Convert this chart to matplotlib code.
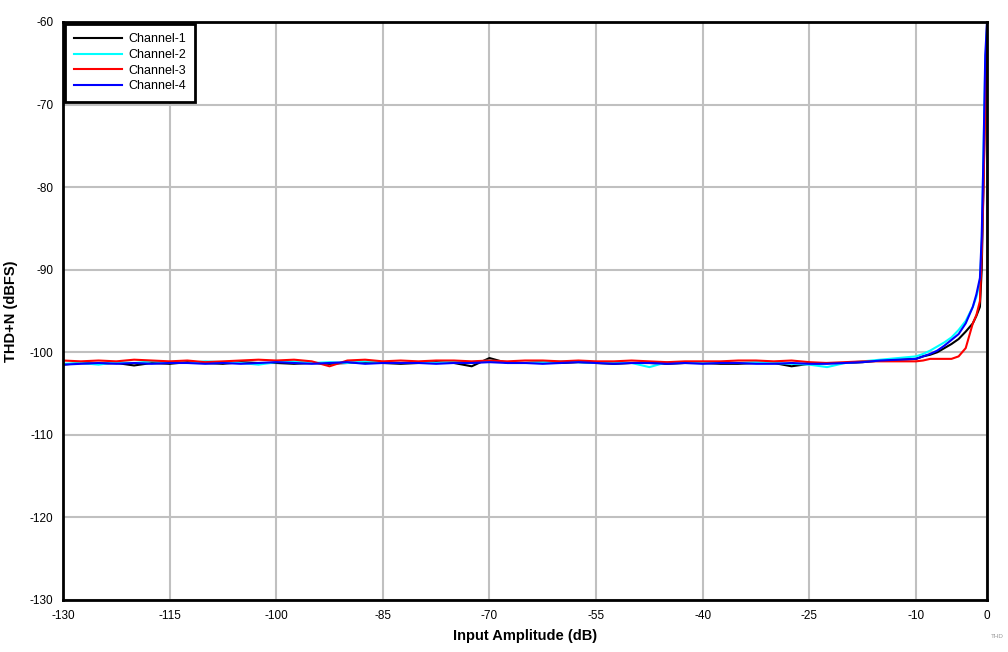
import matplotlib
matplotlib.use("Agg")
import matplotlib.pyplot as plt

plt.rcParams['font.family'] = ['Liberation Sans', 'DejaVu Sans']
plt.rcParams['axes.unicode_minus'] = False

# input amplitude (dB), shared by all channels
amplitude = [-130, -127.5, -125, -122.5, -120, -117.5, -115, -112.5, -110, -107.5,
             -105, -102.5, -100, -97.5, -95, -92.5, -90, -87.5, -85, -82.5,
             -80, -77.5, -75, -72.5, -70, -67.5, -65, -62.5, -60, -57.5,
             -55, -52.5, -50, -47.5, -45, -42.5, -40, -37.5, -35, -32.5,
             -30, -27.5, -25, -22.5, -20, -17.5, -15, -12.5,
             -10, -9, -8, -7, -6, -5, -4, -3, -2, -1.5, -1, -0.75, -0.5, -0.25, 0]

ch1 = [-101.5, -101.3, -101.4, -101.3, -101.6, -101.3, -101.4, -101.2, -101.3, -101.4,
       -101.2, -101.3, -101.3, -101.4, -101.3, -101.4, -101.3, -101.2, -101.3, -101.4,
       -101.3, -101.2, -101.3, -101.7, -100.7, -101.3, -101.3, -101.2, -101.3, -101.2,
       -101.3, -101.4, -101.3, -101.3, -101.4, -101.3, -101.3, -101.4, -101.4, -101.3,
       -101.3, -101.7, -101.4, -101.3, -101.3, -101.2, -101.0, -100.9,
       -100.8, -100.5, -100.3, -100.0, -99.5, -99.0, -98.4, -97.5, -96.5, -95.6, -94.5, -90.0, -80.0, -68.0, -60.0]

ch2 = [-101.4, -101.3, -101.5, -101.2, -101.3, -101.1, -101.2, -101.3, -101.1, -101.2,
       -101.3, -101.5, -101.2, -101.1, -101.3, -101.2, -101.3, -101.1, -101.2, -101.3,
       -101.2, -101.3, -101.1, -101.2, -101.0, -101.2, -101.3, -101.2, -101.1, -101.2,
       -101.3, -101.2, -101.3, -101.8, -101.2, -101.3, -101.3, -101.2, -101.3, -101.2,
       -101.3, -101.4, -101.5, -101.8, -101.3, -101.1, -100.9, -100.7,
       -100.5, -100.2, -99.8, -99.3, -98.8, -98.2, -97.3, -96.2, -94.5, -93.3, -91.5, -87.0, -76.0, -65.0, -61.0]

ch3 = [-101.0, -101.1, -101.0, -101.1, -100.9, -101.0, -101.1, -101.0, -101.2, -101.1,
       -101.0, -100.9, -101.0, -100.9, -101.1, -101.7, -101.0, -100.9, -101.1, -101.0,
       -101.1, -101.0, -101.0, -101.1, -101.0, -101.1, -101.0, -101.0, -101.1, -101.0,
       -101.1, -101.1, -101.0, -101.1, -101.2, -101.1, -101.1, -101.1, -101.0, -101.0,
       -101.1, -101.0, -101.2, -101.3, -101.2, -101.1, -101.1, -101.1,
       -101.1, -101.0, -100.8, -100.8, -100.8, -100.8, -100.5, -99.5, -96.5, -95.5, -93.8, -88.0, -80.0, -70.0, -62.0]

ch4 = [-101.5, -101.4, -101.3, -101.4, -101.3, -101.4, -101.3, -101.3, -101.4, -101.3,
       -101.4, -101.3, -101.2, -101.3, -101.4, -101.3, -101.2, -101.4, -101.3, -101.3,
       -101.3, -101.4, -101.3, -101.3, -101.2, -101.3, -101.3, -101.4, -101.3, -101.2,
       -101.3, -101.4, -101.3, -101.3, -101.4, -101.3, -101.4, -101.3, -101.3, -101.4,
       -101.4, -101.3, -101.4, -101.4, -101.3, -101.2, -101.0, -100.9,
       -100.8, -100.5, -100.2, -99.8, -99.2, -98.5, -97.8, -96.5, -94.5, -93.0, -91.0, -86.0, -76.0, -64.0, -60.0]

series = [("Channel-1", ch1, "black"),
          ("Channel-2", ch2, "#00ffff"),
          ("Channel-3", ch3, "red"),
          ("Channel-4", ch4, "blue")]

x_ticks = [-130, -115, -100, -85, -70, -55, -40, -25, -10, 0]
y_ticks = [-130, -120, -110, -100, -90, -80, -70, -60]

fig = plt.figure(figsize=(10.08, 6.52), dpi=100)
ax = fig.add_axes([0.0625, 0.0798, 0.9167, 0.8865])

for name, values, color in series:
    ax.plot(amplitude, values, color=color, linewidth=1.5, label=name)

ax.set_xlim(-130, 0)
ax.set_ylim(-130, -60)
ax.set_xticks(x_ticks)
ax.set_yticks(y_ticks)
ax.grid(True, color="#c0c0c0", linewidth=1.5)
ax.set_axisbelow(True)
ax.tick_params(length=0, labelsize=8.5, pad=7)
for spine in ax.spines.values():
    spine.set_linewidth(2)

ax.set_xlabel("Input Amplitude (dB)", fontsize=10.5, fontweight="bold", labelpad=5)
ax.set_ylabel("THD+N (dBFS)", fontsize=10.5, fontweight="bold", labelpad=8)

leg = ax.legend(loc="upper left", fontsize=9, fancybox=False, framealpha=1,
                borderaxespad=0.15, handlelength=3.8, labelspacing=0.3,
                borderpad=0.75, handletextpad=0.5)
leg.get_frame().set_edgecolor("black")
leg.get_frame().set_linewidth(2)

fig.text(0.996, 0.02, "THD", fontsize=4.5, color="#999999", ha="right", va="bottom")

fig.savefig("out.png", dpi=100)
